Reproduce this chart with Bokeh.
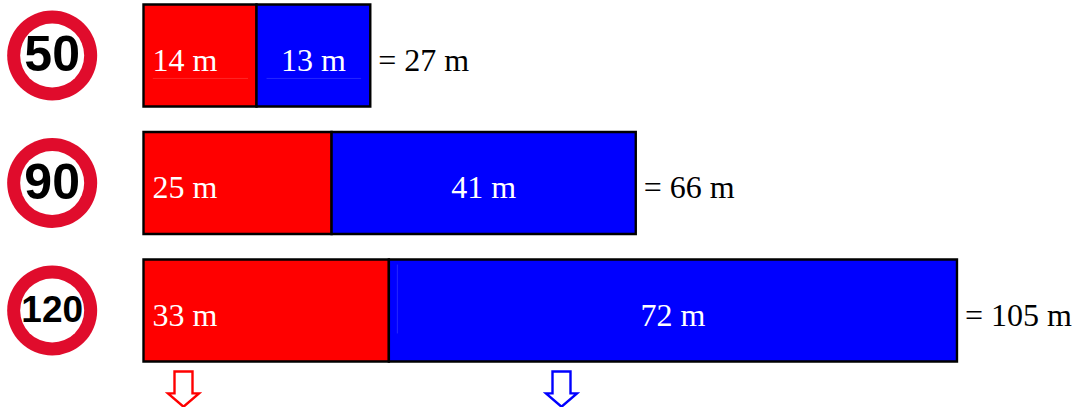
from bokeh.plotting import figure
from bokeh.models import Range1d, ColumnDataSource
from bokeh.core.properties import value
from bokeh.embed import file_html
from bokeh.resources import INLINE

# Labels and the lengths as actually drawn (the picture is not exactly to scale)
speeds = ["50", "90", "120"]
reaction_labels = ["14 m", "25 m", "33 m"]
braking_labels = ["13 m", "41 m", "72 m"]
total_labels = ["= 27 m", "= 66 m", "= 105 m"]
drawn_reaction = [14.6, 24.3, 31.7]
drawn_braking = [14.7, 39.3, 73.4]

W, H = 1074, 407
PX_PER_M = 7.74
ROW_PX = 127.5
x0 = 143 / PX_PER_M
y0 = 55 / ROW_PX

p = figure(width=W, height=H, output_backend="svg", toolbar_location=None,
           x_range=Range1d(-x0, (W - 143) / PX_PER_M),
           y_range=Range1d((H - 55) / ROW_PX, -y0),
           min_border=0)
p.axis.visible = False
p.grid.visible = False
p.outline_line_color = None
p.background_fill_color = "white"
p.border_fill_color = "white"

rows = list(range(3))
ends = [a + b for a, b in zip(drawn_reaction, drawn_braking)]
src = ColumnDataSource(dict(y=rows, r=drawn_reaction, e=ends, zero=[0, 0, 0],
                            mid=[a + b / 2 for a, b in zip(drawn_reaction, drawn_braking)],
                            rl=reaction_labels, bl=braking_labels, tl=total_labels))

p.hbar(y="y", left="zero", right="r", height=0.8, source=src,
       fill_color="#ff0000", line_color="black", line_width=2.4, line_join="miter")
p.hbar(y="y", left="r", right="e", height=0.8, source=src,
       fill_color="#0000ff", line_color="black", line_width=2.4, line_join="miter")

# Faint scan marks visible inside the bars
p.segment(x0=[1.2, 15.9, 32.8], y0=[0.18, 0.18, 1.64],
          x1=[13.5, 28.1, 32.8], y1=[0.18, 0.18, 2.18],
          line_color="white", line_alpha=0.15, line_width=1)

serif = value("Liberation Serif")
base = 4
p.text(x="zero", y="y", text="rl", source=src, x_offset=9, y_offset=base, text_color="white",
       text_font=serif, text_font_size="32px", text_align="left", text_baseline="alphabetic")
p.text(x="mid", y="y", text="bl", source=src, y_offset=base, text_color="white",
       text_font=serif, text_font_size="32px", text_align="center", text_baseline="alphabetic")
p.text(x="e", y="y", text="tl", source=src, x_offset=8, y_offset=base, text_color="black",
       text_font=serif, text_font_size="32px", text_align="left", text_baseline="alphabetic")

# Road signs
sign_x = [-11.8] * 3
sign_src = ColumnDataSource(dict(x=sign_x, y=rows, t=speeds, fs=["50px", "50px", "37px"]))
p.scatter(x="x", y="y", size=90, marker="circle", source=sign_src,
          fill_color="#e00c2c", line_color=None)
p.scatter(x="x", y="y", size=64, marker="circle", source=sign_src,
          fill_color="white", line_color=None)
p.text(x="x", y="y", text="t", source=sign_src, y_offset=-2, text_color="black",
       text_font=value("Liberation Sans"), text_font_style="bold",
       text_font_size="fs", text_align="center", text_baseline="middle")

# Arrows under the third bar: one for each part of the distance
arrow_x = [40 / PX_PER_M, 418 / PX_PER_M]
arrow_colors = ["#ff0000", "#0000ff"]
hw_shaft, hw_head = 9 / PX_PER_M, 15.5 / PX_PER_M
top, neck, tip = 2.479, 2.65, 2.755
for cx, c in zip(arrow_x, arrow_colors):
    p.patch([cx - hw_shaft, cx + hw_shaft, cx + hw_shaft, cx + hw_head, cx, cx - hw_head, cx - hw_shaft],
            [top, top, neck, neck, tip, neck, neck],
            fill_color="white", line_color=c, line_width=2.4, line_join="miter")

open("out.html", "w").write(file_html(p, INLINE))
